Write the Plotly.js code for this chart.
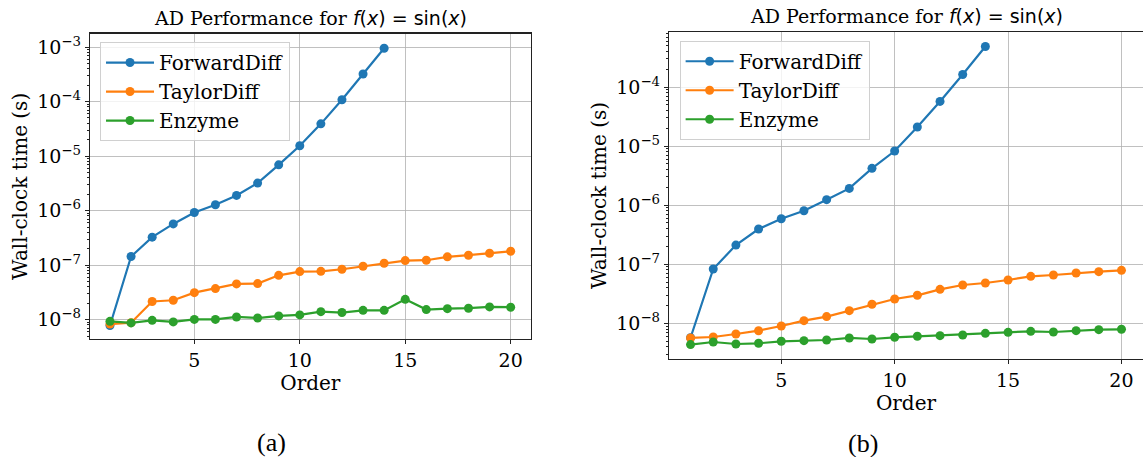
<!DOCTYPE html>
<html>
<head>
<meta charset="utf-8">
<script src="https://cdn.plot.ly/plotly-3.0.1.min.js"></script>
<style>html,body{margin:0;padding:0;background:#fff;}#chart{width:1143px;height:457px;}</style>
</head>
<body>
<div id="chart"></div>
<script>
// ---- data ----
const orders = [1,2,3,4,5,6,7,8,9,10,11,12,13,14,15,16,17,18,19,20];
const ordersFwd = [1,2,3,4,5,6,7,8,9,10,11,12,13,14];

// panel (a)
const fwdA = [7.8e-9,1.44e-7,3.26e-7,5.7e-7,9.25e-7,1.28e-6,1.9e-6,3.2e-6,6.9e-6,1.55e-5,3.9e-5,1.08e-4,3.2e-4,9.5e-4];
const taylorA = [8.3e-9,8.8e-9,2.15e-8,2.27e-8,3.13e-8,3.71e-8,4.52e-8,4.58e-8,6.5e-8,7.6e-8,7.7e-8,8.4e-8,9.55e-8,1.08e-7,1.21e-7,1.23e-7,1.42e-7,1.52e-7,1.65e-7,1.8e-7];
const enzymeA = [9.3e-9,8.7e-9,9.7e-9,9.1e-9,1.01e-8,1.01e-8,1.12e-8,1.07e-8,1.17e-8,1.22e-8,1.4e-8,1.35e-8,1.48e-8,1.48e-8,2.36e-8,1.53e-8,1.59e-8,1.62e-8,1.71e-8,1.69e-8];

// panel (b)
const fwdB = [5.7e-9,8.3e-8,2.11e-7,3.95e-7,5.9e-7,8.05e-7,1.24e-6,1.92e-6,4.2e-6,8.25e-6,2.1e-5,5.7e-5,1.63e-4,4.86e-4];
const taylorB = [5.65e-9,5.87e-9,6.6e-9,7.5e-9,9.0e-9,1.11e-8,1.3e-8,1.64e-8,2.1e-8,2.58e-8,2.98e-8,3.76e-8,4.45e-8,4.81e-8,5.41e-8,6.24e-8,6.58e-8,7.1e-8,7.48e-8,7.88e-8];
const enzymeB = [4.36e-9,4.83e-9,4.47e-9,4.59e-9,4.96e-9,5.09e-9,5.22e-9,5.65e-9,5.43e-9,5.8e-9,6.03e-9,6.18e-9,6.35e-9,6.77e-9,7.04e-9,7.32e-9,7.13e-9,7.51e-9,7.81e-9,7.92e-9];

const seriesNames = ["ForwardDiff","TaylorDiff","Enzyme"];
const xTickVals = [5,10,15,20];
const xTickText = ["5","10","15","20"];
const yTickValsA = [1e-8,1e-7,1e-6,1e-5,1e-4,1e-3];
const yTickTextA = ["10<sup>−8</sup>","10<sup>−7</sup>","10<sup>−6</sup>","10<sup>−5</sup>","10<sup>−4</sup>","10<sup>−3</sup>"];
const yTickValsB = [1e-8,1e-7,1e-6,1e-5,1e-4];
const yTickTextB = ["10<sup>−8</sup>","10<sup>−7</sup>","10<sup>−6</sup>","10<sup>−5</sup>","10<sup>−4</sup>"];
const titleText = 'AD Performance for <span style="font-family:\'DejaVu Sans\'"><i>f</i>(<i>x</i>) = sin(<i>x</i>)</span>';
const xTitle = "Order";
const yTitle = "Wall-clock time (s)";
const panelLabels = ["(a)","(b)"];

// ---- styling ----
const colors = ["#1f77b4","#ff7f0e","#2ca02c"];
const serif = "DejaVu Serif";

// minor tick positions for log axis
const minorVals = [];
for (let e = -10; e <= -2; e++) {
  for (let m = 2; m <= 9; m++) minorVals.push(m * Math.pow(10, e));
}

function mk(x, y, i, xa, ya, leg) {
  return {
    x: x, y: y, name: seriesNames[i], type: "scatter", mode: "lines+markers",
    xaxis: xa, yaxis: ya, legend: leg,
    line: {color: colors[i], width: 2.2},
    marker: {color: colors[i], size: 9}
  };
}

const data = [
  mk(ordersFwd, fwdA, 0, "x", "y", "legend"),
  mk(orders, taylorA, 1, "x", "y", "legend"),
  mk(orders, enzymeA, 2, "x", "y", "legend"),
  mk(ordersFwd, fwdB, 0, "x2", "y2", "legend2"),
  mk(orders, taylorB, 1, "x2", "y2", "legend2"),
  mk(orders, enzymeB, 2, "x2", "y2", "legend2")
];

function xaxis(domain, anchor) {
  return {
    domain: domain, anchor: anchor, range: [0.05, 20.95],
    tickvals: xTickVals, ticktext: xTickText,
    showgrid: true, gridcolor: "#b0b0b0", gridwidth: 0.8,
    showline: true, linecolor: "#222", linewidth: 1.2, mirror: true,
    ticks: "outside", ticklen: 4, tickcolor: "#222",
    tickfont: {family: serif, size: 19, color: "#000"},
    zeroline: false, automargin: false,
    title: {text: xTitle, font: {family: serif, size: 20, color: "#000"}, standoff: 0}
  };
}
function yaxis(domain, anchor, range, tv, tt) {
  return {
    domain: domain, anchor: anchor, type: "log", range: range,
    tickvals: tv, ticktext: tt,
    showgrid: true, gridcolor: "#b0b0b0", gridwidth: 0.8,
    showline: true, linecolor: "#222", linewidth: 1.2, mirror: true,
    ticks: "outside", ticklen: 4, tickcolor: "#222",
    minor: {tickvals: minorVals, ticks: "outside", ticklen: 2.2, tickcolor: "#222", showgrid: false},
    tickfont: {family: serif, size: 19, color: "#000"},
    zeroline: false, automargin: false,
    title: {text: yTitle, font: {family: serif, size: 20, color: "#000"}, standoff: 4}
  };
}

const legendStyle = {
  xanchor: "left", yanchor: "top",
  bgcolor: "rgba(255,255,255,0.8)", bordercolor: "#d0d0d0", borderwidth: 1,
  font: {family: serif, size: 20, color: "#000"},
  itemwidth: 48, tracegroupgap: 0
};

const layout = {
  width: 1143, height: 457,
  margin: {l: 0, r: 0, t: 0, b: 0},
  paper_bgcolor: "#fff", plot_bgcolor: "#fff",
  showlegend: true,
  xaxis: xaxis([0.0787, 0.4643], "y"),
  yaxis: yaxis([0.2582, 0.9263], "x", [-8.355, -2.755], yTickValsA, yTickTextA),
  xaxis2: xaxis([0.5853, 1.0], "y2"),
  yaxis2: yaxis([0.2138, 0.9306], "x2", [-8.609, -3.064], yTickValsB, yTickTextB),
  legend: Object.assign({x: 0.0875, y: 0.908}, legendStyle),
  legend2: Object.assign({x: 0.5946, y: 0.9108}, legendStyle),
  annotations: [
    {text: titleText, xref: "paper", yref: "paper", x: 310/1143, y: 1 - 18/457, xanchor: "center", yanchor: "middle", showarrow: false, font: {family: serif, size: 19, color: "#000"}},
    {text: titleText, xref: "paper", yref: "paper", x: 906/1143, y: 1 - 16/457, xanchor: "center", yanchor: "middle", showarrow: false, font: {family: serif, size: 19, color: "#000"}},
    {text: panelLabels[0], xref: "paper", yref: "paper", x: 271/1143, y: 1 - 442/457, xanchor: "center", yanchor: "middle", showarrow: false, font: {family: "Liberation Serif", size: 26, color: "#000"}},
    {text: panelLabels[1], xref: "paper", yref: "paper", x: 863/1143, y: 1 - 443/457, xanchor: "center", yanchor: "middle", showarrow: false, font: {family: "Liberation Serif", size: 26, color: "#000"}}
  ]
};

Plotly.newPlot("chart", data, layout, {displayModeBar: false, staticPlot: true});
</script>
</body>
</html>
